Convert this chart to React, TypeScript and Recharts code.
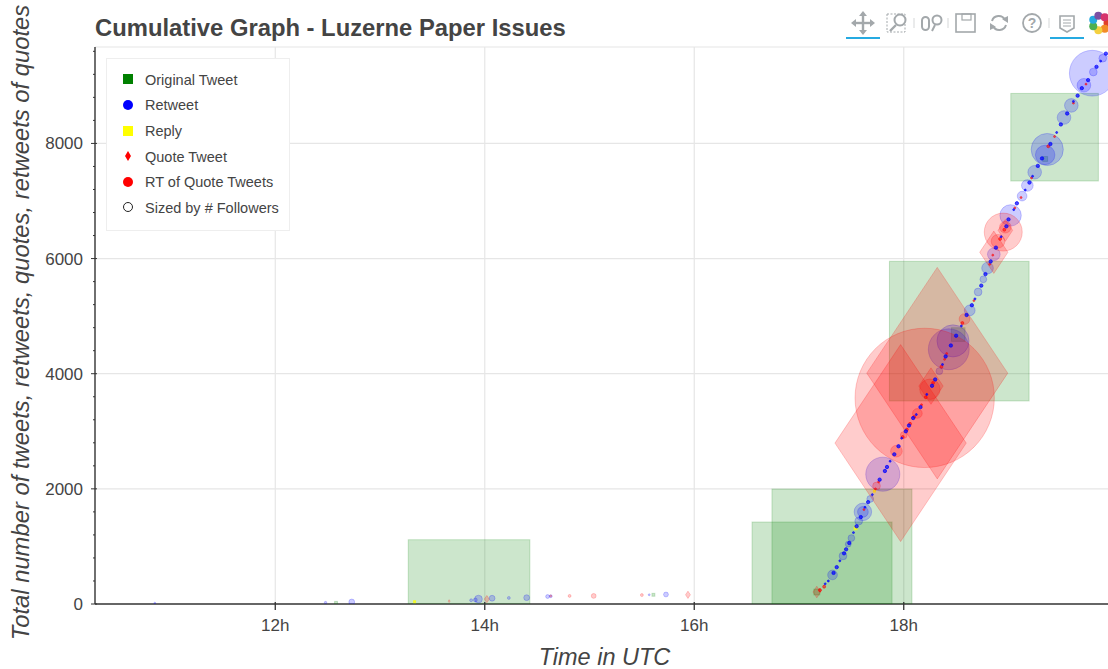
import { CSSProperties } from 'react'
import { CartesianGrid, Label, Legend, Scatter, ScatterChart, XAxis, YAxis, ZAxis } from 'recharts'

// Bokeh-style cumulative scatter. Followers drive marker area via the z axis.
const FONT = '"Liberation Sans", Arial, sans-serif'
const TEXT = '#444444'

const hourTicks = [12, 14, 16, 18]
const countTicks = [0, 400, 800, 1200, 1600, 2000, 2400, 2800, 3200, 3600, 4000, 4400, 4800, 5200, 5600, 6000, 6400, 6800, 7200, 7600, 8000, 8400, 8800, 9200, 9600]
const gridCounts = [2000, 4000, 6000, 8000, 9675]

const originalHours = [13.85, 17.22, 17.41, 18.53, 19.44, 19.35, 15.61, 12.58, 18.52, 17.17]
const originalCounts = [60, 208, 781, 4740, 8108, 7730, 160, 20, 4680, 208]
const originalFollowers = [78500, 104000, 104000, 103500, 40700, 125, 45, 45, 985, 180]

const retweetHours = [19.8, 19.72, 19.81, 19.9, 19.6, 19.53, 19.37, 19.35, 19.25, 19.18, 19.13, 19.02, 18.86, 18.8, 18.76, 18.71, 18.63, 18.47, 18.43, 18.34, 17.8, 17.68, 17.61, 17.61, 17.57, 17.5, 17.47, 17.42, 17.32, 10.85, 12.48, 12.73, 13.87, 13.91, 13.94, 14.07, 14.23, 14.4, 14.6, 14.63, 15.57, 15.73]
const retweetCounts = [9220, 9010, 9240, 9480, 8660, 8450, 7895, 7800, 7500, 7270, 7085, 6750, 6075, 5835, 5640, 5420, 5100, 4570, 4425, 4045, 2255, 1825, 1600, 1600, 1440, 1145, 1040, 835, 505, 15, 25, 35, 65, 70, 85, 100, 105, 110, 130, 135, 160, 165]
const retweetFollowers = [11110, 985, 320, 320, 985, 985, 5480, 2010, 985, 720, 500, 2430, 850, 720, 245, 320, 610, 5480, 8870, 245, 6160, 245, 1630, 610, 320, 245, 180, 320, 500, 20, 30, 180, 45, 80, 320, 180, 45, 180, 80, 45, 20, 125]

const replyHours = [13.33, 17.54, 17.72]
const replyCounts = [40, 1315, 1960]
const replyFollowers = [20, 45, 20]

const quoteHours = [17.97, 18.32, 18.26, 18.86, 18.97, 15.94, 17.17, 14.02, 13.66, 17.2]
const quoteCounts = [2795, 4010, 3785, 6110, 6490, 160, 208, 85, 50, 240]
const quoteFollowers = [91500, 105500, 3140, 4230, 1130, 125, 320, 125, 20, 45]

const quoteRtHours = [18.2, 18.95, 18.25, 17.93, 17.74, 18.13, 18.0, 18.58, 18.9, 18.97, 14.81, 15.04, 15.5, 14.63]
const quoteRtCounts = [3580, 6460, 3730, 2655, 2050, 3310, 2935, 4950, 6300, 6545, 140, 140, 155, 140]
const quoteRtFollowers = [103000, 7650, 2220, 720, 320, 500, 245, 610, 985, 720, 45, 125, 45, 20]

// the dense small dots that make up the visible "line" of the curve
const trailBlueHours = [17.25, 17.28, 17.33, 17.36, 17.39, 17.43, 17.45, 17.48, 17.52, 17.55, 17.59, 17.63, 17.66, 17.7, 17.77, 17.82, 17.84, 17.87, 17.91, 17.95, 17.98, 18.02, 18.05, 18.09, 18.12, 18.16, 18.22, 18.27, 18.3, 18.37, 18.4, 18.45, 18.5, 18.55, 18.6, 18.65, 18.68, 18.74, 18.78, 18.83, 18.88, 18.93, 18.98, 19.0, 19.05, 19.08, 19.16, 19.2, 19.23, 19.28, 19.32, 19.4, 19.46, 19.5, 19.56, 19.62, 19.66, 19.7, 19.76, 19.84, 19.88, 19.93]
const trailBlueCounts = [350, 400, 540, 640, 750, 880, 950, 1060, 1240, 1350, 1510, 1680, 1770, 1900, 2160, 2310, 2380, 2480, 2600, 2740, 2880, 3000, 3100, 3230, 3290, 3420, 3640, 3790, 3900, 4160, 4300, 4490, 4660, 4830, 5020, 5190, 5300, 5530, 5730, 5950, 6190, 6380, 6560, 6680, 6850, 6960, 7190, 7320, 7430, 7610, 7740, 7990, 8190, 8330, 8520, 8730, 8830, 8960, 9100, 9330, 9430, 9560]
const trailBlueFollowers = [20, 20, 60, 60, 20, 60, 60, 60, 20, 60, 60, 20, 60, 20, 60, 60, 60, 20, 60, 60, 20, 60, 60, 60, 20, 60, 20, 60, 60, 20, 60, 60, 60, 20, 60, 60, 20, 60, 60, 60, 60, 20, 60, 60, 20, 60, 20, 60, 20, 60, 60, 60, 20, 60, 60, 20, 60, 60, 60, 60, 20, 60]

const trailRedHours = [17.2, 17.24, 17.62, 17.73, 17.76, 17.99, 18.03, 18.06, 18.1, 18.17, 18.21, 18.28, 18.36, 18.39, 18.41, 18.56, 18.67, 18.82, 18.85, 18.92, 18.96, 19.06, 19.12, 19.22, 19.38, 19.44, 19.62, 19.74]
const trailRedCounts = [240, 300, 1640, 2000, 2120, 2900, 3030, 3130, 3250, 3460, 3590, 3840, 4120, 4250, 4350, 4880, 5270, 5900, 6060, 6340, 6500, 6880, 7060, 7400, 7950, 8120, 8700, 9030]
const trailRedFollowers = [45, 45, 20, 20, 20, 45, 45, 45, 45, 20, 45, 45, 45, 20, 20, 45, 20, 20, 20, 45, 45, 20, 20, 20, 45, 20, 20, 20]

const legendLabels = ['Original Tweet', 'Retweet', 'Reply', 'Quote Tweet', 'RT of Quote Tweets', 'Sized by # Followers']
const legendColors = ['#008000', '#0000ff', '#ffff00', '#ff0000', '#ff0000', 'none']
const legendKinds = ['square', 'circle', 'square', 'diamond', 'circle', 'ring']

const zip = (hours: number[], counts: number[], followers: number[]) =>
  hours.map((hour, i) => ({ hour, count: counts[i], followers: followers[i] }))

// size comes in as the squared marker width from the z axis
function marker(kind: string, color: string, alpha = 0.2) {
  return (props: any) => {
    const { cx, cy, size } = props
    const d = Math.sqrt(size)
    const paint = { fill: color, fillOpacity: alpha, stroke: color, strokeOpacity: alpha, strokeWidth: 1 }
    if (kind === 'square') return <rect x={cx - d / 2} y={cy - d / 2} width={d} height={d} {...paint} />
    if (kind === 'diamond') {
      const h = d * 0.75
      return <polygon points={`${cx - d / 2},${cy} ${cx},${cy - h} ${cx + d / 2},${cy} ${cx},${cy + h}`} {...paint} />
    }
    return <circle cx={cx} cy={cy} r={d / 2} {...paint} />
  }
}

function HourTick({ x, y, payload }: any) {
  return (
    <g>
      <line x1={x} x2={x} y1={y - 2} y2={y + 6} stroke="#333" strokeWidth={1.3} />
      <text x={x} y={y + 27} textAnchor="middle" fontFamily={FONT} fontSize={17} fill={TEXT}>
        {payload.value}h
      </text>
    </g>
  )
}

function CountTick({ x, y, payload }: any) {
  const major = payload.value % 2000 === 0
  return (
    <g>
      <line x1={major ? x - 4 : x - 2} x2={major ? x + 2 : x} y1={y} y2={y} stroke="#333" strokeWidth={1} />
      {major && (
        <text x={x - 12} y={y + 6} textAnchor="end" fontFamily={FONT} fontSize={17} fill={TEXT}>
          {payload.value}
        </text>
      )}
    </g>
  )
}

function LegendBox() {
  return (
    <div style={{ width: 184, height: 173, background: '#fff', border: '1px solid #eeeeee', boxSizing: 'border-box', position: 'relative' }}>
      {legendLabels.map((label, i) => {
        const top = 20.8 + i * 25.6 - 10
        const kind = legendKinds[i]
        return (
          <div key={label} style={{ position: 'absolute', left: 0, top, height: 20, width: 184 }}>
            <svg width={20} height={20} style={{ position: 'absolute', left: 11, top: -0.5 }}>
              {kind === 'square' && <rect x={5} y={5} width={10} height={10} fill={legendColors[i]} />}
              {kind === 'circle' && <circle cx={10} cy={10} r={5} fill={legendColors[i]} />}
              {kind === 'diamond' && <polygon points="10,5 13,10 10,15 7,10" fill={legendColors[i]} />}
              {kind === 'ring' && <circle cx={10} cy={10} r={4.5} fill="none" stroke="#222" strokeWidth={1} />}
            </svg>
            <span style={{ position: 'absolute', left: 38, top: 1, fontFamily: FONT, fontSize: 14.5, lineHeight: '18px', color: TEXT, whiteSpace: 'nowrap' }}>
              {label}
            </span>
          </div>
        )
      })}
    </div>
  )
}

function Toolbar() {
  const c = '#a3a8ab'
  const line: CSSProperties = { position: 'absolute', top: 37, height: 2, width: 34, background: '#26aae1' }
  const ring = ['#e0402a', '#f28c28', '#f4d03f', '#4caf50', '#26aae1', '#7b4fa3', '#d6336c']
  return (
    <div style={{ position: 'absolute', left: 0, top: 0, width: 1108, height: 46, overflow: 'hidden' }}>
      <svg width={1108} height={46} style={{ position: 'absolute', left: 0, top: 0 }}>
        {/* pan */}
        <g stroke={c} strokeWidth={2.4} fill={c}>
          <line x1={853} x2={873} y1={23} y2={23} />
          <line x1={863} x2={863} y1={13} y2={33} />
          <polygon points="863,11 859,16 867,16" strokeWidth={0} />
          <polygon points="863,35 859,30 867,30" strokeWidth={0} />
          <polygon points="851,23 856,19 856,27" strokeWidth={0} />
          <polygon points="875,23 870,19 870,27" strokeWidth={0} />
        </g>
        {/* box zoom */}
        <rect x={887} y={14} width={18} height={18} fill="none" stroke={c} strokeWidth={1} strokeDasharray="2 1.5" />
        <circle cx={900} cy={20} r={5.5} fill="#fff" stroke={c} strokeWidth={2} />
        <line x1={896} x2={890} y1={25} y2={31} stroke={c} strokeWidth={2.4} />
        <line x1={914} x2={914} y1={18} y2={28} stroke="#d5d7d8" strokeWidth={1} />
        {/* wheel zoom */}
        <rect x={922} y={17} width={7} height={13} rx={3.5} fill="none" stroke={c} strokeWidth={2} />
        <circle cx={937} cy={20} r={4.5} fill="none" stroke={c} strokeWidth={2} />
        <line x1={935} x2={932} y1={25} y2={31} stroke={c} strokeWidth={2} />
        <line x1={948} x2={948} y1={18} y2={28} stroke="#d5d7d8" strokeWidth={1} />
        {/* save */}
        <rect x={956} y={14} width={19} height={18} fill="none" stroke={c} strokeWidth={1.6} />
        <rect x={962} y={14} width={9} height={6} fill="none" stroke={c} strokeWidth={1.2} />
        {/* reset */}
        <path d="M 992 21 A 7 7 0 0 1 1005 20" fill="none" stroke={c} strokeWidth={2} />
        <path d="M 1006 25 A 7 7 0 0 1 993 26" fill="none" stroke={c} strokeWidth={2} />
        <polygon points="1008,23 1002,19 1008,16" fill={c} />
        <polygon points="990,23 996,27 990,30" fill={c} />
        {/* help */}
        <circle cx={1032} cy={23} r={9} fill="none" stroke={c} strokeWidth={1.8} />
        <text x={1032} y={28} textAnchor="middle" fontFamily={FONT} fontSize={14} fontWeight="bold" fill={c}>?</text>
        <line x1={1049} x2={1049} y1={18} y2={28} stroke="#d5d7d8" strokeWidth={1} />
        {/* hover */}
        <path d="M 1060 16 H 1074 V 28 L 1067 32 L 1060 28 Z" fill="none" stroke={c} strokeWidth={1.6} />
        <line x1={1063} x2={1071} y1={20} y2={20} stroke={c} strokeWidth={1} />
        <line x1={1063} x2={1071} y1={23} y2={23} stroke={c} strokeWidth={1} />
        <line x1={1063} x2={1071} y1={26} y2={26} stroke={c} strokeWidth={1} />
        {/* logo */}
        {ring.map((col, i) => (
          <circle key={col} cx={1100 + 7.5 * Math.cos((i * 2 * Math.PI) / 7)} cy={23 + 7.5 * Math.sin((i * 2 * Math.PI) / 7)} r={4} fill={col} />
        ))}
      </svg>
      <div style={{ ...line, left: 846 }} />
      <div style={{ ...line, left: 1050 }} />
    </div>
  )
}

export default function App() {
  return (
    <div style={{ position: 'absolute', left: 0, top: 0, width: 1108, height: 669, background: '#fff', overflow: 'hidden' }}>
      <ScatterChart width={1108} height={669} margin={{ top: 47, right: 0, bottom: 0, left: 0 }}>
        <CartesianGrid stroke="#e6e6e6" strokeWidth={1.2} verticalValues={hourTicks} horizontalValues={gridCounts} />
        <XAxis
          type="number"
          dataKey="hour"
          domain={[10.279, 19.95]}
          ticks={hourTicks}
          allowDataOverflow
          height={65}
          interval={0}
          stroke="#333"
          strokeWidth={1.4}
          tickLine={false}
          tickSize={0}
          tickMargin={0}
          tick={<HourTick />}
        >
          <Label value="Time in UTC" position="insideBottom" offset={4} dx={3} style={{ fontFamily: FONT, fontStyle: 'italic', fontSize: 23.5, fill: TEXT }} />
        </XAxis>
        <YAxis
          type="number"
          dataKey="count"
          domain={[0, 9675]}
          ticks={countTicks}
          allowDataOverflow
          width={95}
          interval={0}
          stroke="#333"
          strokeWidth={1.4}
          tickLine={false}
          tickSize={0}
          tickMargin={0}
          tick={<CountTick />}
        >
          <Label
            value="Total number of tweets, retweets, quotes, retweets of quotes"
            angle={-90}
            position="insideLeft"
            offset={0}
            dx={21}
            dy={-3}
            style={{ fontFamily: FONT, fontStyle: 'italic', fontSize: 23.8, fill: TEXT, textAnchor: 'middle' }}
          />
        </YAxis>
        <ZAxis type="number" dataKey="followers" domain={[0, 100000]} range={[0, 19881]} />
        <Legend
          layout="vertical"
          align="center"
          verticalAlign="middle"
          content={<LegendBox />}
          wrapperStyle={{ left: 106, top: 58, width: 184, height: 173, right: 'auto', bottom: 'auto' }}
        />
        <Scatter name="Original Tweet" data={zip(originalHours, originalCounts, originalFollowers)} shape={marker('square', '#008000')} isAnimationActive={false} />
        <Scatter name="Retweet" data={zip(retweetHours, retweetCounts, retweetFollowers)} shape={marker('circle', '#0000ff')} isAnimationActive={false} />
        <Scatter name="Reply" data={zip(replyHours, replyCounts, replyFollowers)} shape={marker('square', '#ffff00', 0.7)} isAnimationActive={false} />
        <Scatter name="Quote Tweet" data={zip(quoteHours, quoteCounts, quoteFollowers)} shape={marker('diamond', '#ff0000')} isAnimationActive={false} />
        <Scatter name="RT of Quote Tweets" data={zip(quoteRtHours, quoteRtCounts, quoteRtFollowers)} shape={marker('circle', '#ff0000')} isAnimationActive={false} />
        <Scatter name="Trail quote RTs" data={zip(trailRedHours, trailRedCounts, trailRedFollowers)} shape={marker('circle', '#ff0000', 0.55)} isAnimationActive={false} />
        <Scatter name="Trail retweets" data={zip(trailBlueHours, trailBlueCounts, trailBlueFollowers)} shape={marker('circle', '#0000ff', 0.7)} isAnimationActive={false} />
      </ScatterChart>
      <div style={{ position: 'absolute', left: 95, top: 14, fontFamily: FONT, fontWeight: 'bold', fontSize: 23.8, lineHeight: '28px', color: TEXT, whiteSpace: 'nowrap' }}>
        Cumulative Graph - Luzerne Paper Issues
      </div>
      <Toolbar />
    </div>
  )
}
